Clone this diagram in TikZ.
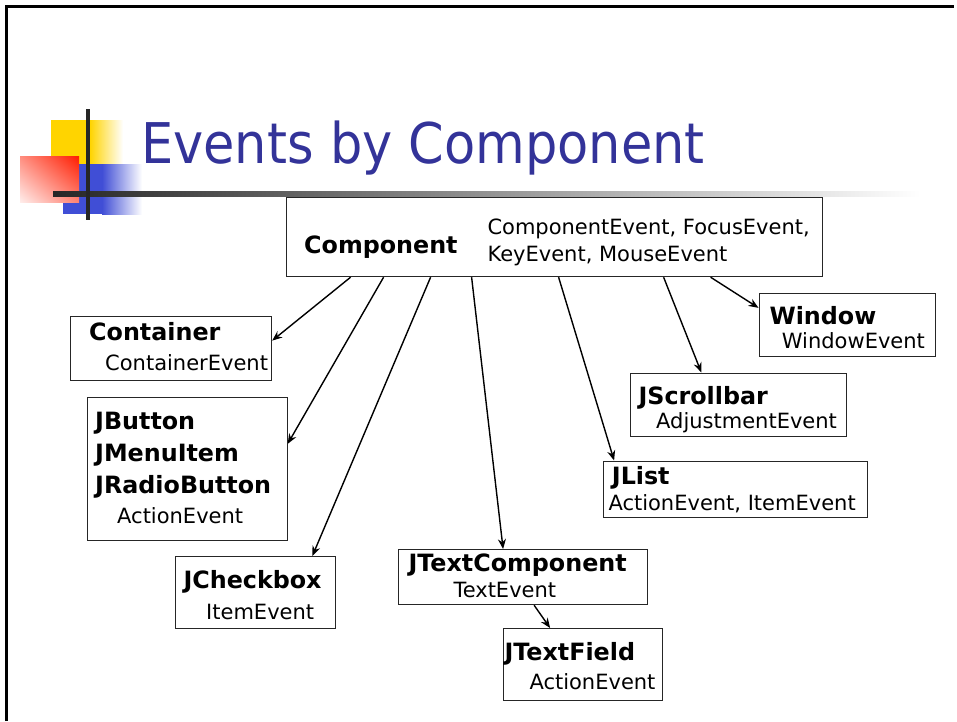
\documentclass[tikz,border=0pt]{standalone}
\usepackage{fontspec}
\setmainfont{DejaVu Sans}
\usetikzlibrary{arrows.meta,shadings}
\definecolor{ttlblue}{RGB}{51,51,153}
\definecolor{dgold}{RGB}{255,212,0}
\definecolor{dblue}{RGB}{64,78,214}
\definecolor{dred}{RGB}{255,28,0}
\pgfdeclarelayer{edgelayer}
\pgfdeclarelayer{nodelayer}
\pgfsetlayers{edgelayer,nodelayer,main}
\tikzstyle{box}=[rectangle, draw=black!85, line width=1.2pt, anchor=north west, inner sep=0pt]
\tikzstyle{cls}=[anchor=base west, inner sep=0pt, font=\fontsize{23.8}{28}\selectfont\bfseries]
\tikzstyle{evt}=[anchor=base west, inner sep=0pt, font=\fontsize{21}{25}\selectfont]
\tikzstyle{arrow}=[-{Stealth[length=10pt,width=8pt]}, draw=black, line width=1.4pt]

\begin{document}
\begin{tikzpicture}[x=1pt,y=-1pt]
    \useasboundingbox (0,0) rectangle (957,721);
    % slide frame and corner decoration
    \draw [line width=3pt] (6.5,721) -- (6.5,6.5) -- (954,6.5);
    \fill [dgold] (51,120) rectangle (90,164);
    \shade [left color=dgold, right color=white] (90,120) rectangle (123,164);
    \fill [dblue] (63,164) rectangle (102,214);
    \shade [left color=dblue, right color=white] (102,164) rectangle (142,214);
    \shade [upper left=dred!50, upper right=dred, lower left=dred!8, lower right=dred!55] (20,156) rectangle (79,202);
    \shade [left color=black!85, right color=white] (53,191) rectangle (920,196);
    \fill [black!85] (86,109) rectangle (90,220);
    \node [anchor=base west, inner sep=0pt, text=ttlblue, font=\fontsize{51}{60}\selectfont] (title) at (141,163.3) {\scalebox{1}[1.1]{Events by Component}};
    \begin{pgfonlayer}{nodelayer}
        \node [style=box, minimum width=536pt, minimum height=79pt] (comp) at (286,197) {};
        \node [style=cls] (comp-name) at (304,253.3) {Component};
        \node [style=evt] (comp-ev1) at (487.3,234.5) {ComponentEvent, FocusEvent,};
        \node [style=evt] (comp-ev2) at (487.3,261.5) {KeyEvent, MouseEvent};

        \node [style=box, minimum width=201pt, minimum height=64pt] (cont) at (70,316) {};
        \node [style=cls] (cont-name) at (89,340.7) {Container};
        \node [style=evt] (cont-ev) at (105,370.7) {ContainerEvent};

        \node [style=box, minimum width=200pt, minimum height=143.5pt] (jbtn) at (86.5,396.5) {};
        \node [style=cls] (jbtn-name1) at (95,429.3) {JButton};
        \node [style=cls] (jbtn-name2) at (95,461.7) {JMenuItem};
        \node [style=cls] (jbtn-name3) at (95,493.3) {JRadioButton};
        \node [style=evt] (jbtn-ev) at (117,523.3) {ActionEvent};

        \node [style=box, minimum width=160.5pt, minimum height=72pt] (jchk) at (174.5,556) {};
        \node [style=cls] (jchk-name) at (183.3,588.3) {JCheckbox};
        \node [style=evt] (jchk-ev) at (206,619.3) {ItemEvent};

        \node [style=box, minimum width=249pt, minimum height=55pt] (jtc) at (398,549) {};
        \node [style=cls] (jtc-name) at (408.3,571.7) {JTextComponent};
        \node [style=evt] (jtc-ev) at (453.3,597.3) {TextEvent};

        \node [style=box, minimum width=159pt, minimum height=72pt] (jtf) at (503,628) {};
        \node [style=cls] (jtf-name) at (504.3,660) {JTextField};
        \node [style=evt] (jtf-ev) at (529.3,689.3) {ActionEvent};

        \node [style=box, minimum width=264pt, minimum height=56pt] (jlist) at (602.5,460.5) {};
        \node [style=cls] (jlist-name) at (611.7,484.3) {JList};
        \node [style=evt] (jlist-ev) at (608.3,510) {ActionEvent, ItemEvent};

        \node [style=box, minimum width=216.5pt, minimum height=63.5pt] (jscr) at (629.5,372.5) {};
        \node [style=cls] (jscr-name) at (638.3,404) {JScrollbar};
        \node [style=evt] (jscr-ev) at (656,428.3) {AdjustmentEvent};

        \node [style=box, minimum width=176pt, minimum height=63.5pt] (win) at (758.5,292.5) {};
        \node [style=cls] (win-name) at (769.3,324.3) {Window};
        \node [style=evt] (win-ev) at (781.7,348.3) {WindowEvent};
    \end{pgfonlayer}
    \begin{pgfonlayer}{edgelayer}
        \draw [style=arrow] ([xshift=-204]comp.south) to ([yshift=8]cont.east);
        \draw [style=arrow] ([xshift=-171]comp.south) to ([yshift=25]jbtn.east);
        \draw [style=arrow] ([xshift=-124]comp.south) to ([xshift=57]jchk.north);
        \draw [style=arrow] ([xshift=-83]comp.south) to ([xshift=-20]jtc.north);
        \draw [style=arrow] ([xshift=4]comp.south) to ([xshift=-121]jlist.north);
        \draw [style=arrow] ([xshift=109]comp.south) to ([xshift=-37]jscr.north);
        \draw [style=arrow] ([xshift=156]comp.south) to ([yshift=17]win.west);
        \draw [style=arrow] ([xshift=11]jtc.south) to ([xshift=-33]jtf.north);
    \end{pgfonlayer}
\end{tikzpicture}
\end{document}
